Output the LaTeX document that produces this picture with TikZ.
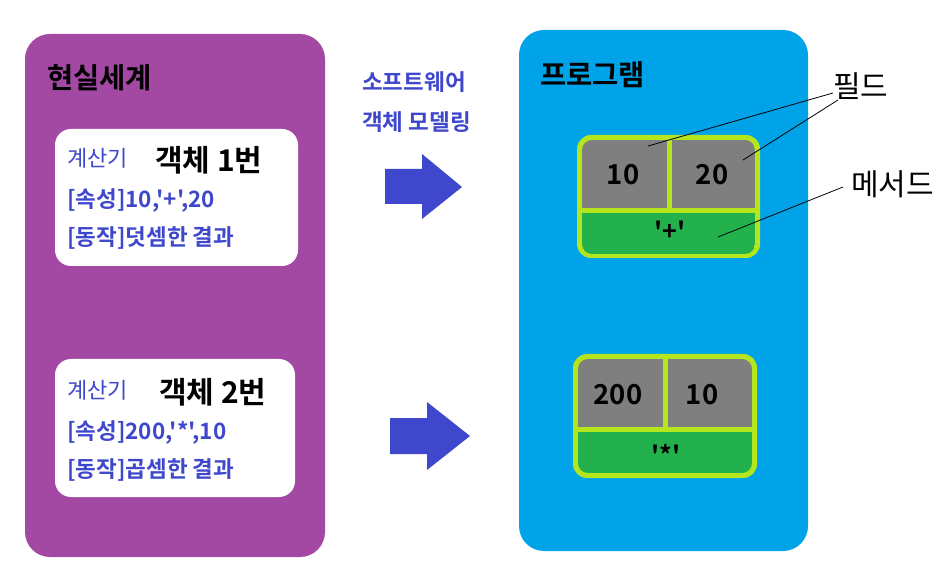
\documentclass[tikz,border=0pt]{standalone}
\usepackage{fontspec}
\setmainfont{Noto Sans CJK KR}[Ligatures=TeXOff,BoldFont={Noto Sans CJK KR Bold}]
\definecolor{panelpurple}{HTML}{A349A4}
\definecolor{panelblue}{HTML}{00A2E8}
\definecolor{limeedge}{HTML}{B5E61D}
\definecolor{cellgreen}{HTML}{22B14C}
\definecolor{cellgrey}{HTML}{7F7F7F}
\definecolor{txtblue}{HTML}{3F48CC}
\tikzset{
  panel/.style={rounded corners=25pt},
  card/.style={fill=white,rounded corners=16pt},
  title/.style={font=\fontsize{28.5}{33}\selectfont\bfseries,text=black,anchor=west,inner sep=0pt},
  bluetxt/.style={font=\fontsize{22}{26}\selectfont,text=txtblue,anchor=west,inner sep=0pt},
  bluebold/.style={font=\fontsize{22.5}{26}\selectfont\bfseries,text=txtblue,anchor=west,inner sep=0pt},
  objtitle/.style={font=\fontsize{30}{35}\selectfont\bfseries,text=black,anchor=west,inner sep=0pt},
  celltxt/.style={font=\fontsize{27.5}{32}\selectfont\bfseries,text=black,inner sep=0pt},
  optxt/.style={font=\fontsize{25}{29}\selectfont\bfseries,text=black,inner sep=0pt},
  callout/.style={font=\fontsize{30}{35}\selectfont,text=black,anchor=west,inner sep=0pt},
  bigarrow/.style={fill=txtblue},
  leader/.style={draw=black,line width=0.8pt}
}
\begin{document}
\begin{tikzpicture}[x=1pt,y=-1pt]
\useasboundingbox (0,0) rectangle (943,569);
\fill[white] (0,0) rectangle (943,569);
% panels
\fill[panelpurple,panel] (25,34) rectangle (325,557);
\fill[panelblue,panel] (519,30) rectangle (808,551);
% cards
\fill[card] (55,129) rectangle (298,266);
\fill[card] (55,359) rectangle (295,497);
% left texts
\node[title] (real) at (47,78) {현실세계};
\node[bluetxt] (calc1) at (67,158) {계산기};
\node[objtitle] (obj1) at (155,160) {객체 1번};
\node[bluebold] (attr1) at (67,200) {[속성]10,'+',20};
\node[bluebold] (act1) at (67,238) {[동작]덧셈한 결과};
\node[bluetxt] (calc2) at (67,390) {계산기};
\node[objtitle] (obj2) at (159,392) {객체 2번};
\node[bluebold] (attr2) at (67,432) {[속성]200,'*',10};
\node[bluebold] (act2) at (67,470) {[동작]곱셈한 결과};
% middle
\node[bluebold] (sw) at (362,82) {소프트웨어};
\node[bluebold] (model) at (362,122) {객체 모델링};
\fill[bigarrow] (385,169) -- (422,169) -- (422,154) -- (462,187) -- (422,219) -- (422,204) -- (385,204) -- cycle;
\fill[bigarrow] (390,418) -- (427,418) -- (427,402) -- (470,436) -- (427,470) -- (427,454) -- (390,454) -- cycle;
% program
\node[title] (prog) at (540,75) {프로그램};
% record 1
\fill[limeedge,rounded corners=14pt] (577,135) rectangle (760,258);
\begin{scope}
\clip[rounded corners=10pt] (582,140) rectangle (755,254);
\fill[cellgrey] (582,140) rectangle (667,208);
\fill[cellgrey] (672,140) rectangle (755,208);
\fill[cellgreen] (582,213) rectangle (755,254);
\end{scope}
\node[celltxt] (f11) at (623,175) {10};
\node[celltxt] (f12) at (712,175) {20};
\node[optxt] (m1) at (670,231) {'+'};
% record 2
\fill[limeedge,rounded corners=14pt] (573,354) rectangle (757,478);
\begin{scope}
\clip[rounded corners=10pt] (578,359) rectangle (752,473);
\fill[cellgrey] (578,359) rectangle (663,427);
\fill[cellgrey] (668,359) rectangle (752,427);
\fill[cellgreen] (578,432) rectangle (752,473);
\end{scope}
\node[celltxt] (f21) at (618,395) {200};
\node[celltxt] (f22) at (702,395) {10};
\node[optxt] (m2) at (666,454) {'*'};
% callouts
\node[callout] (field) at (833,86) {필드};
\node[callout] (method) at (851,184) {메서드};
\coordinate (fa) at (833,93);
\coordinate (fb) at (838,100);
\coordinate (ma) at (843,187);
\coordinate (pf1) at (648,146);
\coordinate (pf2) at (743,160);
\coordinate (pm) at (718,237);
\draw[leader] (fa) -- (pf1);
\draw[leader] (fb) -- (pf2);
\draw[leader] (ma) -- (pm);
\end{tikzpicture}
\end{document}
